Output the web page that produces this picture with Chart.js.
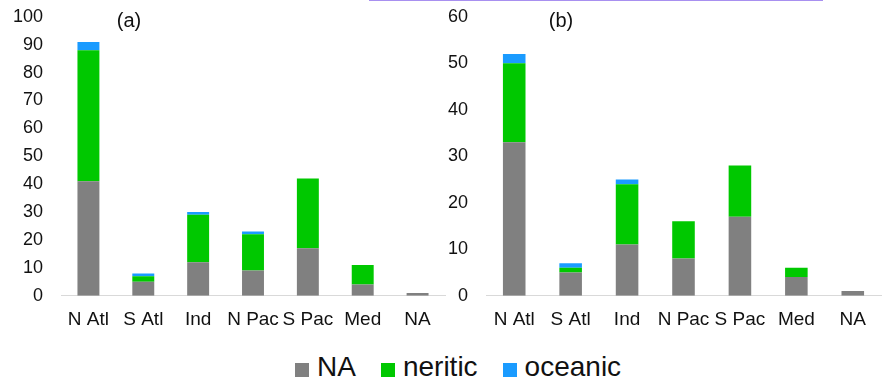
<!DOCTYPE html>
<html>
<head>
<meta charset="utf-8">
<script src="https://cdn.jsdelivr.net/npm/chart.js@4/dist/chart.umd.min.js"></script>
<style>
  body { margin: 0; background: #fff; font-family: "Liberation Sans", Arial, sans-serif; }
  #wrap { position: relative; width: 883px; height: 385px; overflow: hidden; }
  .box { position: absolute; top: -12px; height: 357px; }
  #boxA { left: 0; width: 450px; }
  #boxB { left: 440px; width: 443px; }
  .tag { position: absolute; top: 9px; font-size: 20px; color: #111; transform: translateX(-50%); }
  #topline { position: absolute; left: 369px; top: 0; width: 454px; height: 1px; background: #a890f0; }
  #legend { position: absolute; left: 295px; top: 351px; display: flex; align-items: center;
            font-size: 28px; line-height: 32px; color: #111; }
  #legend .sw { width: 14px; height: 14px; margin-right: 8px; margin-top: 6px; }
  #legend .item { display: flex; align-items: center; margin-right: 25px; }
</style>
</head>
<body>
<div id="wrap">
  <div id="topline"></div>
  <div class="box" id="boxA"><canvas id="chartA"></canvas></div>
  <div class="box" id="boxB"><canvas id="chartB"></canvas></div>
  <div class="tag" style="left:129px">(a)</div>
  <div class="tag" style="left:561px">(b)</div>
  <div id="legend"></div>
</div>
<script>
const categories = ["N Atl", "S Atl", "Ind", "N Pac", "S Pac", "Med", "NA"];
const seriesNames = ["NA", "neritic", "oceanic"];
const seriesColors = ["#808080", "#00c800", "#1a9bff"];

// panel (a)
const aNA = [41, 5, 12, 9, 17, 4, 1];
const aNeritic = [47, 2, 17, 13, 25, 7, 0];
const aOceanic = [3, 1, 1, 1, 0, 0, 0];

// panel (b)
const bNA = [33, 5, 11, 8, 17, 4, 1];
const bNeritic = [17, 1, 13, 8, 11, 2, 0];
const bOceanic = [2, 1, 1, 0, 0, 0, 0];

const fontFamily = "'Liberation Sans', Arial, sans-serif";

function makeChart(id, series, yMax, yWidth, padRight) {
  return new Chart(document.getElementById(id), {
    type: "bar",
    data: {
      labels: categories,
      datasets: series.map((vals, i) => ({
        label: seriesNames[i],
        data: vals,
        backgroundColor: seriesColors[i],
        borderWidth: 0,
        barPercentage: 0.4,
        categoryPercentage: 1
      }))
    },
    options: {
      responsive: true,
      maintainAspectRatio: false,
      animation: false,
      layout: { padding: { left: 0, right: padRight, top: 4, bottom: 0 } },
      plugins: { legend: { display: false }, tooltip: { enabled: false } },
      scales: {
        x: {
          stacked: true,
          grid: { display: false, drawTicks: false },
          border: { display: true, color: "#d9d9d9", width: 1 },
          ticks: { color: "#111", padding: 13, maxRotation: 0, autoSkip: false,
                   font: { family: fontFamily, size: 19 } },
          afterFit: (s) => { s.height = 357 - 307.7; }
        },
        y: {
          stacked: true,
          min: 0,
          max: yMax,
          grid: { display: false, drawTicks: false },
          border: { display: false },
          ticks: { stepSize: 10, color: "#111", padding: 18,
                   font: { family: fontFamily, size: 18 } },
          afterFit: (s) => { s.width = yWidth; }
        }
      }
    }
  });
}

makeChart("chartA", [aNA, aNeritic, aOceanic], 100, 61, 5);
makeChart("chartB", [bNA, bNeritic, bOceanic], 60, 46, 2);

// shared legend under both panels
const legend = document.getElementById("legend");
seriesNames.forEach((name, i) => {
  const item = document.createElement("div");
  item.className = "item";
  const sw = document.createElement("div");
  sw.className = "sw";
  sw.style.background = seriesColors[i];
  const txt = document.createElement("span");
  txt.textContent = name;
  item.appendChild(sw);
  item.appendChild(txt);
  legend.appendChild(item);
});
</script>
</body>
</html>
